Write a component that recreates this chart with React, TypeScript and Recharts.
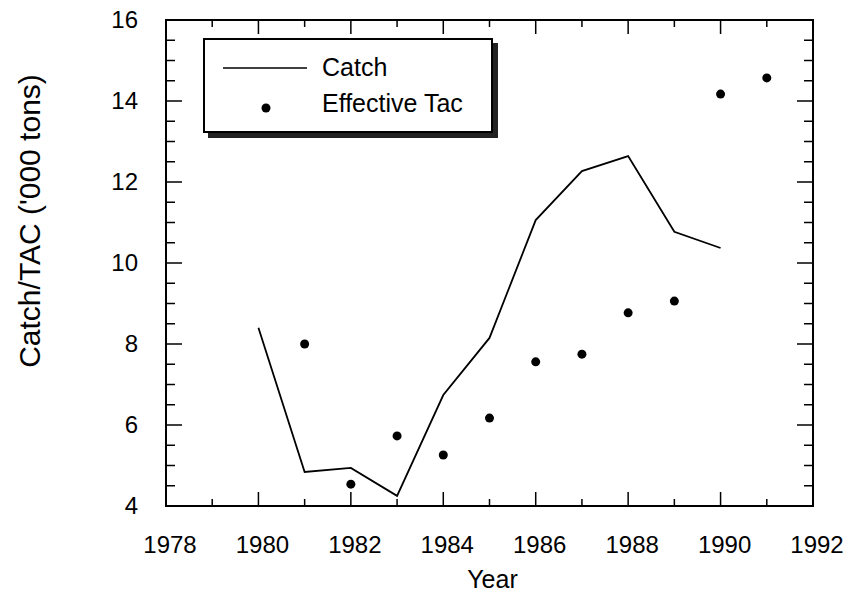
import React from 'react';
import { ComposedChart, Line, Scatter, XAxis, YAxis, Legend, ReferenceArea, Label } from 'recharts';

// catch per season, thousand tons
const catchYears = [1980, 1981, 1982, 1983, 1984, 1985, 1986, 1987, 1988, 1989, 1990];
const catchValues = [8.4, 4.84, 4.94, 4.25, 6.74, 8.15, 11.06, 12.27, 12.64, 10.77, 10.37];

// effective TAC, thousand tons
const tacYears = [1981, 1982, 1983, 1984, 1985, 1986, 1987, 1988, 1989, 1990, 1991];
const tacValues = [8.0, 4.54, 5.73, 5.26, 6.17, 7.56, 7.75, 8.77, 9.06, 14.17, 14.57];

const yearTicks = [1978, 1979, 1980, 1981, 1982, 1983, 1984, 1985, 1986, 1987, 1988, 1989, 1990, 1991, 1992];
const valueTicks = [4, 4.5, 5, 5.5, 6, 6.5, 7, 7.5, 8, 8.5, 9, 9.5, 10, 10.5, 11, 11.5, 12, 12.5, 13, 13.5, 14, 14.5, 15, 15.5, 16];

const W = 849;
const H = 594;
const margin = { top: 20, right: 36, bottom: 28, left: 66 };
const PLOT_TOP = margin.top;
const PLOT_RIGHT = W - margin.right;
const FONT = '"Liberation Sans", Arial, Helvetica, sans-serif';

const catchRows = catchYears.map((year, i) => ({ year, catch: catchValues[i] }));
const tacRows = tacYears.map((year, i) => ({ year, tac: tacValues[i] }));

const XTick = ({ x, y, payload }: any) => {
  const major = payload.value % 2 === 0;
  const len = major ? 14 : 7;
  return (
    <g>
      <line x1={x} x2={x} y1={y} y2={y - len} stroke="#000" strokeWidth={1.5} />
      <line x1={x} x2={x} y1={PLOT_TOP} y2={PLOT_TOP + len} stroke="#000" strokeWidth={1.5} />
      {major && (
        <text x={x + 4} y={y + 47} textAnchor="middle" fontSize={24} fontFamily={FONT} fill="#000">
          {payload.value}
        </text>
      )}
    </g>
  );
};

const YTick = ({ x, y, payload }: any) => {
  const major = payload.value % 2 === 0;
  const len = major ? 16 : 9;
  return (
    <g>
      <line x1={x} x2={x + len} y1={y} y2={y} stroke="#000" strokeWidth={1.5} />
      <line x1={PLOT_RIGHT} x2={PLOT_RIGHT - len} y1={y} y2={y} stroke="#000" strokeWidth={1.5} />
      {major && (
        <text x={x - 28} y={y + 8} textAnchor="end" fontSize={24} fontFamily={FONT} fill="#000">
          {payload.value}
        </text>
      )}
    </g>
  );
};

const LegendBox = ({ payload }: any) => (
  <div
    style={{
      width: 290,
      height: 95,
      boxSizing: 'border-box',
      border: '2px solid #000',
      boxShadow: '5px 5px 0 #222',
      background: '#fff',
    }}
  >
    <svg width={286} height={91} style={{ display: 'block' }}>
      {(payload || []).map((entry: any, i: number) => {
        const cy = 28 + i * 36;
        return (
          <g key={entry.value}>
            {entry.type === 'line' ? (
              <line x1={18} x2={102} y1={cy} y2={cy} stroke="#000" strokeWidth={1.5} />
            ) : (
              <circle cx={61} cy={cy + 4} r={4.5} fill="#000" />
            )}
            <text x={117} y={cy + 8} fontSize={25} fontFamily={FONT} fill="#000">
              {entry.value}
            </text>
          </g>
        );
      })}
    </svg>
  </div>
);

export default function App() {
  return (
    <div style={{ position: 'absolute', left: 0, top: 0, width: W, height: H, background: '#fff' }}>
      <ComposedChart width={W} height={H} margin={margin}>
        <XAxis
          dataKey="year"
          type="number"
          domain={[1978, 1992]}
          ticks={yearTicks}
          interval={0}
          allowDataOverflow
          axisLine={false}
          tickLine={false}
          tickSize={0}
          tickMargin={0}
          height={60}
          tick={<XTick />}
        >
          <Label
            content={({ viewBox }: any) => (
              <text
                x={viewBox.x + viewBox.width / 2 + 3}
                y={viewBox.y + 82}
                textAnchor="middle"
                fontSize={25}
                fontFamily={FONT}
                fill="#000"
              >
                Year
              </text>
            )}
          />
        </XAxis>
        <YAxis
          type="number"
          domain={[4, 16]}
          ticks={valueTicks}
          interval={0}
          allowDataOverflow
          axisLine={false}
          tickLine={false}
          tickSize={0}
          tickMargin={0}
          width={100}
          tick={<YTick />}
        >
          <Label
            content={({ viewBox }: any) => {
              const lx = viewBox.x - 26;
              const ly = viewBox.y + 201;
              return (
                <text
                  x={lx}
                  y={ly}
                  transform={`rotate(-90, ${lx}, ${ly})`}
                  textAnchor="middle"
                  fontSize={30}
                  fontFamily={FONT}
                  fill="#000"
                >
                  Catch/TAC ('000 tons)
                </text>
              );
            }}
          />
        </YAxis>
        <ReferenceArea x1={1978} x2={1992} y1={4} y2={16} fill="none" stroke="#000" strokeWidth={2} />
        <Line
          data={catchRows}
          dataKey="catch"
          name="Catch"
          type="linear"
          stroke="#000"
          strokeWidth={1.8}
          dot={false}
          legendType="line"
          isAnimationActive={false}
        />
        <Scatter
          data={tacRows}
          dataKey="tac"
          name="Effective Tac"
          fill="#000"
          legendType="circle"
          isAnimationActive={false}
          shape={(p: any) => <circle cx={p.cx} cy={p.cy} r={4.5} fill="#000" />}
        />
        <Legend
          layout="horizontal"
          verticalAlign="middle"
          align="center"
          content={<LegendBox />}
          wrapperStyle={{ left: 203, top: 38, width: 290, height: 95 }}
        />
      </ComposedChart>
    </div>
  );
}
